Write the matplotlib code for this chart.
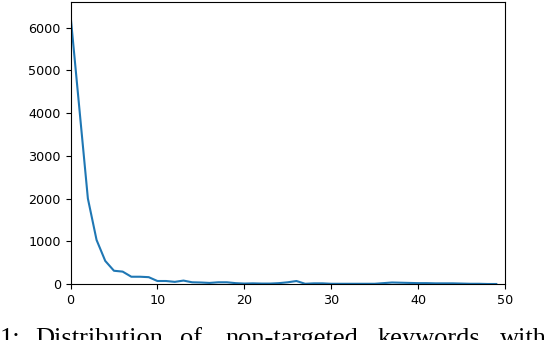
import matplotlib
matplotlib.use("Agg")
import matplotlib.pyplot as plt

x = list(range(0, 50))
counts = [6300, 4150, 2000, 1030, 540, 310, 290, 170, 170, 160,
          70, 70, 50, 80, 40, 35, 25, 40, 40, 20,
          10, 15, 10, 10, 20, 40, 70, 5, 15, 15,
          5, 5, 5, 5, 5, 5, 20, 35, 30, 25,
          20, 20, 15, 15, 15, 10, 5, 5, 0, 0]
yticks = [0, 1000, 2000, 3000, 4000, 5000, 6000]
xticks = [0, 10, 20, 30, 40, 50]
caption_words = ["1:", "Distribution", "of", "non-targeted", "keywords", "with"]

fig = plt.figure(figsize=(5.48, 3.4), dpi=100)
ax = fig.add_axes([70.5 / 548, 1 - 284 / 340, (505 - 70.5) / 548, (284 - 2) / 340])
ax.plot(x, counts, color="#1f77b4", lw=1.5)
ax.set_xlim(0, 50)
ax.set_ylim(0, 6600)
ax.set_xticks(xticks)
ax.set_yticks(yticks)
ax.tick_params(labelsize=9.2)

word_x = [0, 35, 180, 225, 378, 500]
for w, px in zip(caption_words, word_x):
    fig.text(px / 548, 1 - 345 / 340, w, family="Liberation Serif", fontsize=19,
             ha="left", va="baseline")

fig.savefig("out.png", dpi=100)
